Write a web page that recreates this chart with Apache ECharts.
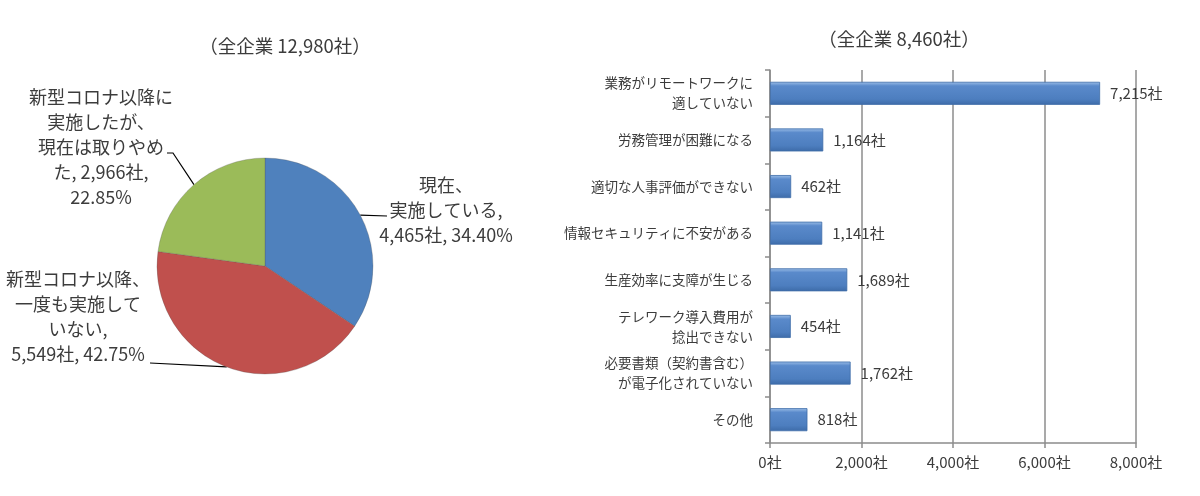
<!DOCTYPE html>
<html>
<head>
<meta charset="utf-8">
<script src="https://cdn.jsdelivr.net/npm/echarts@6/dist/echarts.min.js"></script>
<style>
html,body{margin:0;padding:0;background:#fff;}
#c{width:1200px;height:496px;}
</style>
</head>
<body>
<div id="c"></div>
<script>
// ---- Pie data ----
const pieNames = ['現在、実施している', '新型コロナ以降、一度も実施していない', '新型コロナ以降に実施したが、現在は取りやめた'];
const pieValues = [4465, 5549, 2966];
const pieLabelNames = ['現在、\n実施している', '新型コロナ以降、\n一度も実施して\nいない', '新型コロナ以降に\n実施したが、\n現在は取りやめ\nた'];
const pieLabelSep1 = [',\n', ',\n', ', '];
const pieLabelSep2 = [', ', ', ', ',\n'];
const pieColors = ['#4F81BD', '#C0504D', '#9BBB59'];
const pieTitle = '（全企業 12,980社）';

// ---- Bar data ----
const barCategories = [
  '業務がリモートワークに\n適していない',
  '労務管理が困難になる',
  '適切な人事評価ができない',
  '情報セキュリティに不安がある',
  '生産効率に支障が生じる',
  'テレワーク導入費用が\n捻出できない',
  '必要書類（契約書含む）\nが電子化されていない',
  'その他'
];
const barValues = [7215, 1164, 462, 1141, 1689, 454, 1762, 818];
const barTitle = '（全企業 8,460社）';

const FONT = '"Noto Sans CJK JP", "Noto Sans", sans-serif';
const TXT = '#3c3c3c';
const fmt = v => v.toLocaleString('en-US');
const total = pieValues.reduce((a, b) => a + b, 0);

const chart = echarts.init(document.getElementById('c'), null, {renderer: 'canvas'});

const pieLabelPos = [
  {x: 446, y: 210, end: [[387, 216]]},
  {x: 78, y: 317, end: [[150, 363]]},
  {x: 101, y: 147, end: [[173, 153], [167, 153]]}
];

const option = {
  backgroundColor: '#ffffff',
  animation: false,
  textStyle: {fontFamily: FONT},
  title: [
    {text: pieTitle, left: 280, top: 32, textAlign: 'center',
     textStyle: {fontSize: 18.5, fontWeight: 'normal', color: TXT, fontFamily: FONT}},
    {text: barTitle, left: 894, top: 25, textAlign: 'center',
     textStyle: {fontSize: 18.5, fontWeight: 'normal', color: TXT, fontFamily: FONT}}
  ],
  grid: {left: 770, right: 64, top: 70, bottom: 53, containLabel: false},
  xAxis: {
    type: 'value', min: 0, max: 8000, interval: 2000,
    axisLine: {show: true, lineStyle: {color: '#8c8c8c', width: 1.5}},
    axisTick: {show: true, length: 5, lineStyle: {color: '#8c8c8c', width: 1.5}},
    splitLine: {show: true, lineStyle: {color: '#8c8c8c', width: 1.5}},
    axisLabel: {formatter: v => fmt(v) + '社', color: TXT, fontSize: 15, margin: 12, fontFamily: FONT}
  },
  yAxis: {
    type: 'category', inverse: true, data: barCategories,
    axisLine: {show: true, lineStyle: {color: '#8c8c8c', width: 1.5}},
    axisTick: {show: true, length: 5, lineStyle: {color: '#8c8c8c', width: 1.5}},
    axisLabel: {color: TXT, fontSize: 13.5, lineHeight: 20, margin: 17, align: 'right', fontFamily: FONT}
  },
  series: [
    {
      type: 'pie',
      center: [265, 266],
      radius: 108,
      startAngle: 90,
      clockwise: true,
      avoidLabelOverlap: false,
      data: pieNames.map((n, i) => ({name: n, value: pieValues[i], itemStyle: {color: pieColors[i]}})),
      itemStyle: {borderColor: 'rgba(80,80,80,0.35)', borderWidth: 0.8},
      label: {
        show: true, position: 'outside',
        color: TXT, fontSize: 18, lineHeight: 25, fontFamily: FONT,
        formatter: p => pieLabelNames[p.dataIndex] + pieLabelSep1[p.dataIndex] +
          fmt(p.value) + '社' + pieLabelSep2[p.dataIndex] + (p.value / total * 100).toFixed(2) + '%'
      },
      labelLine: {show: true, length: 10, length2: 10, lineStyle: {color: '#000', width: 1.2}},
      labelLayout: function (params) {
        const c = pieLabelPos[params.dataIndex];
        const start = params.labelLinePoints ? params.labelLinePoints[0] : null;
        const res = {x: c.x, y: c.y, align: 'center', verticalAlign: 'middle'};
        if (start) res.labelLinePoints = [start].concat(c.end);
        return res;
      },
      emphasis: {disabled: true}
    },
    {
      type: 'bar',
      data: barValues,
      barWidth: 23,
      itemStyle: {
        color: new echarts.graphic.LinearGradient(0, 0, 0, 1, [
          {offset: 0, color: '#9DBFE8'},
          {offset: 0.18, color: '#5A8ACB'},
          {offset: 0.75, color: '#4D7EBF'},
          {offset: 1, color: '#3D6BA8'}
        ]),
        borderColor: '#3E6CA8', borderWidth: 0.8
      },
      label: {
        show: true, position: 'right', distance: 10,
        formatter: p => fmt(p.value) + '社',
        color: TXT, fontSize: 15, fontFamily: FONT
      },
      emphasis: {disabled: true}
    }
  ]
};
chart.setOption(option);
</script>
</body>
</html>
